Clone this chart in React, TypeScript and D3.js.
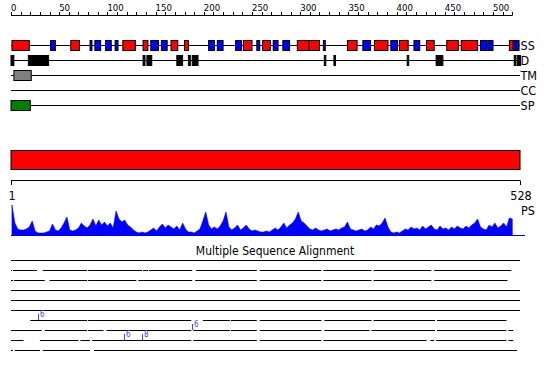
import React from "react";
import * as d3 from "d3";

// ---------- data (residue coordinates) ----------
const SEQ_LENGTH = 528;
const topTicks = [0, 50, 100, 150, 200, 250, 300, 350, 400, 450, 500];
const minorTicks = d3.range(0, 521, 10);

const ssHelix: [number, number][] = [
  [1, 19], [62, 71], [116, 129], [137, 142], [166, 173], [180, 184], [241, 250],
  [261, 269], [297, 309], [309, 320], [349, 359], [377, 391], [403, 412], [431, 439],
  [452, 464], [467, 484], [517, 521],
];
const ssStrand: [number, number][] = [
  [41, 46], [82, 84], [87, 93], [98, 104], [108, 111], [145, 153], [156, 162],
  [205, 211], [214, 220], [233, 239], [255, 258], [272, 277], [282, 289], [324, 326],
  [365, 373], [394, 401], [418, 424], [487, 494], [495, 500], [521, 524], [524, 527],
];
const disorder: [number, number][] = [
  [0, 3], [18, 39], [137, 139], [141, 146], [172, 178], [184, 186], [188, 194],
  [325, 326], [335, 336], [411, 412], [441, 448], [522, 523], [525, 526], [527, 528],
];
const transmembrane: [number, number][] = [[3, 21]];
const coiledCoil: [number, number][] = [];
const signalPeptide: [number, number][] = [[0, 20]];
const trackNames = ["SS", "D", "TM", "CC", "SP"];

const domainBar: [number, number] = [0, 528];
const bottomTicks = [1, 528];

// PS profile, one value every 3 residues
const psScore = [
  30, 12, 6, 5, 5, 6, 8, 14, 4, 2, 2, 2, 3, 4, 11, 5, 4, 7, 12, 18, 5, 4, 5, 7, 12, 9,
  7, 10, 16, 9, 15, 10, 13, 9, 12, 7, 24, 16, 13, 15, 10, 8, 5, 3, 2, 3, 2, 3, 5, 7, 4,
  8, 11, 7, 10, 8, 6, 9, 5, 12, 6, 3, 3, 2, 4, 6, 14, 23, 10, 6, 8, 6, 9, 14, 23, 8, 5,
  7, 10, 5, 7, 10, 6, 4, 5, 4, 3, 3, 4, 3, 5, 7, 5, 8, 12, 7, 10, 12, 16, 23, 14, 12,
  9, 6, 5, 7, 5, 4, 5, 6, 4, 5, 6, 5, 7, 8, 13, 6, 5, 4, 5, 6, 4, 5, 8, 6, 10, 9, 12,
  17, 8, 3, 2, 3, 2, 4, 6, 5, 8, 6, 7, 5, 9, 6, 8, 10, 6, 5, 9, 6, 7, 5, 8, 6, 9, 7,
  6, 9, 7, 10, 12, 16, 8, 6, 5, 10, 8, 12, 7, 9, 12, 8, 17, 16,
];
const psResidue = psScore.map((_, i) => Math.min(1 + i * 3, SEQ_LENGTH));

// Multiple sequence alignment rows (residue segments)
const msaRows: [number, number][][] = [
  [[0, 528]],
  [[0, 1], [2, 27], [33, 79], [80, 136], [137, 142], [143, 188], [192, 255], [258, 322], [324, 374], [376, 436], [439, 519]],
  [[0, 2], [3, 35], [40, 79], [80, 130], [132, 188], [191, 255], [258, 322], [324, 374], [376, 436], [439, 515]],
  [[0, 528]],
  [[0, 528]],
  [[0, 528]],
  [[20, 79], [80, 187], [199, 227], [228, 255], [258, 322], [325, 374], [376, 440], [442, 514]],
  [[0, 32], [35, 79], [80, 96], [99, 187], [189, 227], [228, 255], [258, 322], [325, 372], [374, 440], [442, 514], [516, 521]],
  [[0, 13], [30, 70], [72, 82], [84, 187], [189, 255], [258, 322], [324, 431], [435, 439], [441, 514], [516, 521]],
  [[0, 2], [4, 30], [33, 82], [86, 525]],
];
const msaNotes: { row: number; pos: number; label: string }[] = [
  { row: 6, pos: 28, label: "6" },
  { row: 7, pos: 188, label: "6" },
  { row: 8, pos: 117, label: "6" },
  { row: 8, pos: 136, label: "8" },
];

// ---------- component ----------
const FONT = "'DejaVu Sans Condensed', 'DejaVu Sans', sans-serif";

export default function App() {
  const W = 550;
  const H = 380;
  const x = d3.scaleLinear().domain([0, SEQ_LENGTH]).range([11, 520]);
  const trackY = [45, 60, 75, 90, 105];
  const trackData: [number, number][][] = [[], disorder, transmembrane, coiledCoil, signalPeptide];
  const trackFill = ["", "#000000", "#808080", "#000000", "#008000"];

  const psY = d3.scaleLinear().domain([0, 30]).range([235, 205]);
  const area = d3
    .area<number>()
    .x((_, i) => x(psResidue[i]))
    .y0(psY(0))
    .y1((d) => psY(d))
    .curve(d3.curveLinear);

  const seg = (s: [number, number]) => {
    const x0 = x(s[0]);
    const w = Math.max(x(s[1]) - x0, 1.5);
    return { x0, w };
  };

  const msaY = (r: number) => 260 + r * 10;

  return (
    <svg
      width={W}
      height={H}
      style={{ position: "absolute", left: 0, top: 0, background: "#fff" }}
      fontFamily={FONT}
    >
      <rect width={W} height={H} fill="#fff" />
      {/* top axis */}
      <line x1={x(0)} x2={x(520)} y1={15.5} y2={15.5} stroke="#000" />
      {minorTicks.map((t) => (
        <line key={"m" + t} x1={Math.round(x(t)) + 0.5} x2={Math.round(x(t)) + 0.5} y1={12} y2={15.5} stroke="#000" />
      ))}
      {topTicks.map((t) => (
        <text key={"t" + t} x={x(t)} y={11} fontSize={9.5} fill="#000">
          {t}
        </text>
      ))}

      {/* track lines */}
      {trackY.map((y, i) => (
        <g key={"tr" + i}>
          <line x1={x(0)} x2={520} y1={y + 0.5} y2={y + 0.5} stroke="#000" />
          <text x={520.5} y={y + 5} fontSize={12.5} fill="#000">
            {trackNames[i]}
          </text>
        </g>
      ))}

      {/* SS */}
      {ssHelix.map((s, i) => {
        const { x0, w } = seg(s);
        return <rect key={"h" + i} x={x0} y={40.5} width={w} height={10} fill="#ff0000" stroke="#000" />;
      })}
      {ssStrand.map((s, i) => {
        const { x0, w } = seg(s);
        return <rect key={"s" + i} x={x0} y={40.5} width={w} height={10} fill="#0000ff" stroke="#000" />;
      })}

      {/* other tracks */}
      {trackData.map((arr, ti) =>
        arr.map((s, i) => {
          const { x0, w } = seg(s);
          return (
            <rect
              key={"d" + ti + "_" + i}
              x={x0}
              y={trackY[ti] - 4.5}
              width={w}
              height={10}
              fill={trackFill[ti]}
              stroke="#000"
            />
          );
        })
      )}

      {/* domain bar */}
      <rect
        x={x(domainBar[0])}
        y={150.5}
        width={x(domainBar[1]) - x(domainBar[0])}
        height={19}
        fill="#ff0000"
        stroke="#000"
      />

      {/* bottom axis */}
      <line x1={x(0)} x2={x(SEQ_LENGTH)} y1={180.5} y2={180.5} stroke="#000" />
      {bottomTicks.map((t, i) => {
        const px = i === 0 ? x(0) : x(SEQ_LENGTH);
        return (
          <g key={"b" + t}>
            <line x1={px + 0.5} x2={px + 0.5} y1={180.5} y2={185} stroke="#000" />
            <text x={px + 1} y={200} fontSize={12.5} textAnchor="middle" fill="#000">
              {t}
            </text>
          </g>
        );
      })}
      <text x={521} y={215} fontSize={12.5} fill="#000">
        PS
      </text>

      {/* PS area */}
      <path d={area(psScore) || ""} fill="#0000ff" stroke="#0000ff" strokeWidth={0.6} />
      <line x1={x(0)} x2={525} y1={235.5} y2={235.5} stroke="#0000ff" />

      {/* MSA */}
      <text x={275} y={255} fontSize={12} textAnchor="middle" fill="#000">
        Multiple Sequence Alignment
      </text>
      {msaRows.map((row, r) =>
        row.map((s, i) => (
          <line
            key={"msa" + r + "_" + i}
            x1={x(s[0])}
            x2={x(s[1])}
            y1={msaY(r) + 0.5}
            y2={msaY(r) + 0.5}
            stroke="#000"
          />
        ))
      )}
      {msaNotes.map((n, i) => {
        const px = Math.round(x(n.pos)) + 0.5;
        const y = msaY(n.row);
        return (
          <g key={"n" + i}>
            <line x1={px} x2={px} y1={y - 6} y2={y} stroke="#4040ff" />
            <text x={px + 1.5} y={y - 3} fontSize={8} fill="#4040ff">
              {n.label}
            </text>
          </g>
        );
      })}
    </svg>
  );
}
